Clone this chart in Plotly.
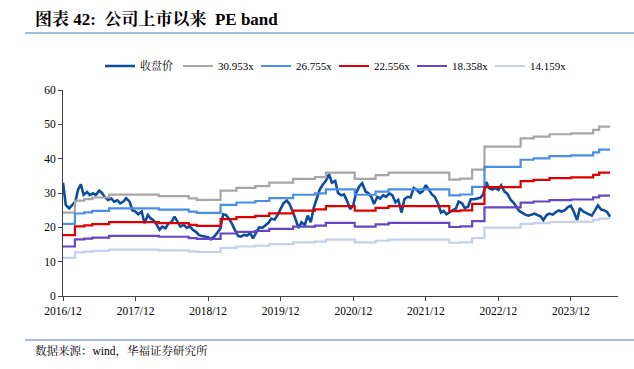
import pandas as pd
import plotly.graph_objects as go

# ---------------- data ----------------
price_start = "2016-12-01"
price = [33.0, 26.5, 25.5, 26.3, 27.5, 31.0, 32.5, 29.5, 30.3, 29.4,
         29.9, 29.4, 30.7, 30.0, 28.7, 28.0, 28.4, 27.5, 27.9, 27.0,
         27.5, 28.5, 27.5, 25.0, 24.6, 23.8, 24.6, 21.2, 23.6, 22.6,
         22.1, 21.0, 19.3, 20.2, 19.7, 21.1, 21.6, 23.1, 21.6, 20.2,
         20.7, 19.9, 20.2, 19.3, 18.7, 17.8, 17.5, 17.3, 17.1, 16.5,
         17.3, 18.3, 19.7, 23.8, 23.6, 22.6, 21.0, 19.2, 17.5, 17.3,
         17.8, 17.6, 18.3, 16.8, 18.7, 20.0, 19.9, 20.5, 21.3, 22.5,
         22.3, 23.5, 25.2, 27.0, 27.8, 26.8, 24.5, 22.0, 19.8, 21.5,
         20.7, 23.4, 21.5, 25.5, 28.5, 31.0, 32.5, 33.5, 35.5, 33.0,
         33.5, 30.0, 29.3, 29.6, 27.5, 25.3, 26.5, 30.0, 32.0, 32.8,
         30.4, 29.9, 28.9, 26.8, 28.9, 28.4, 29.4, 28.9, 29.9, 29.4,
         27.3, 28.0, 24.3, 28.2, 28.9, 28.7, 31.5, 31.0, 30.0, 30.5,
         32.3, 31.2, 29.5, 28.9, 26.8, 24.3, 24.8, 23.8, 24.6, 25.0,
         25.4, 27.5, 27.0, 25.6, 26.0, 28.2, 28.2, 28.4, 28.6, 29.5,
         33.2, 31.4, 31.0, 31.4, 30.9, 32.2, 30.4, 29.8, 28.0, 27.2,
         26.1, 24.8, 24.2, 23.7, 23.4, 23.6, 24.0, 23.6, 23.2, 22.1,
         23.6, 24.0, 23.7, 24.4, 24.9, 24.6, 25.0, 25.8, 26.3, 24.6,
         22.1, 25.6, 24.6, 24.2, 23.8, 23.4, 25.0, 26.4, 25.2, 25.0,
         24.4, 23.1]

eps_dates = ["2016-12-01", "2017-01-30", "2017-03-18", "2017-04-27", "2017-07-21",
             "2018-03-28", "2018-08-26", "2018-10-05", "2019-02-02", "2019-04-23",
             "2019-07-27", "2019-10-05", "2020-02-02", "2020-05-22", "2020-07-16",
             "2020-12-08", "2021-03-23", "2021-05-27", "2022-03-29", "2022-05-23",
             "2022-07-22", "2022-09-22", "2023-03-23", "2023-05-27", "2023-08-15",
             "2023-12-03", "2024-03-22", "2024-04-21"]
eps = [0.785, 0.898, 0.911, 0.927, 0.953, 0.940, 0.918, 0.905, 0.992, 1.018,
       1.034, 1.066, 1.102, 1.118, 1.160, 1.102, 1.137, 1.160, 1.095, 1.105,
       1.189, 1.405, 1.483, 1.499, 1.522, 1.531, 1.564, 1.593]

multiples = [30.953, 26.755, 22.556, 18.358, 14.159]
band_names = ["30.953x", "26.755x", "22.556x", "18.358x", "14.159x"]
price_name = "收盘价"
tick_dates = ["2016-12-01", "2017-12-01", "2018-12-01", "2019-12-01",
              "2020-12-01", "2021-12-01", "2022-12-01", "2023-12-01"]
tick_text = ["2016/12", "2017/12", "2018/12", "2019/12",
             "2020/12", "2021/12", "2022/12", "2023/12"]
title_text = "图表 42:  公司上市以来  PE band"
source_text = "数据来源：wind，华福证券研究所"

# ---------------- figure ----------------
W, H = 634, 369
ML, MR, MT, MB = 63, 16, 90, 73
PW, PH = W - ML - MR, H - MT - MB


def px(x):
    return (x - ML) / PW


def py(y):
    return (H - MB - y) / PH


price_dates = pd.date_range(price_start, periods=len(price), freq="SMS")
end_date = price_dates[-1]

band_colors = ["#a6a6a6", "#4b8ee6", "#e00000", "#6347c4", "#c6d0ea"]
serif = "Liberation Serif, Times New Roman, Noto Serif CJK SC, Noto Sans CJK SC, serif"

fig = go.Figure()
fig.add_trace(go.Scatter(x=price_dates, y=price, mode="lines", name=price_name,
                         line=dict(color="#0d4c9e", width=2.6)))
bx = list(pd.to_datetime(eps_dates)) + [end_date]
for m, n, c in zip(multiples, band_names, band_colors):
    vals = [e * m for e in eps]
    vals = vals + [vals[-1]]
    fig.add_trace(go.Scatter(x=bx, y=vals, mode="lines", name=n, line_shape="hv",
                             line=dict(color=c, width=2.2)))

fig.update_layout(
    width=W, height=H,
    margin=dict(l=ML, r=MR, t=MT, b=MB),
    paper_bgcolor="white", plot_bgcolor="white",
    font=dict(family=serif, size=11.5, color="#000000"),
    showlegend=True,
    legend=dict(orientation="h", x=px(100), y=py(66), xanchor="left", yanchor="middle",
                font=dict(size=11, family=serif), itemwidth=30, tracegroupgap=0,
                entrywidth=33, entrywidthmode="pixels",
                bgcolor="rgba(0,0,0,0)"),
    xaxis=dict(type="date", range=["2016-12-01", "2024-07-25"],
               tickmode="array", tickvals=tick_dates, ticktext=tick_text,
               showgrid=False, zeroline=False, showline=True, linecolor="#404040",
               linewidth=1, ticks="outside", ticklen=4, tickcolor="#404040",
               tickfont=dict(size=11.5, family=serif)),
    yaxis=dict(range=[0, 60], tickmode="linear", tick0=0, dtick=10,
               showgrid=False, zeroline=False, showline=True, linecolor="#404040",
               linewidth=1, ticks="outside", ticklen=4, tickcolor="#404040",
               tickfont=dict(size=11.5, family=serif)),
)

fig.add_annotation(text="<b>" + title_text + "</b>", xref="paper", yref="paper",
                   x=px(33), y=py(19), xanchor="left", yanchor="middle", showarrow=False,
                   font=dict(size=17, family=serif, color="#000000"))
fig.add_annotation(text=source_text, xref="paper", yref="paper",
                   x=px(33), y=py(351), xanchor="left", yanchor="middle", showarrow=False,
                   font=dict(size=11.5, family=serif, color="#000000"))
fig.add_shape(type="line", xref="paper", yref="paper", x0=px(25), x1=px(634),
              y0=py(33), y1=py(33), line=dict(color="#4a7cc4", width=1.2))
fig.add_shape(type="line", xref="paper", yref="paper", x0=px(25), x1=px(634),
              y0=py(340), y1=py(340), line=dict(color="#4a7cc4", width=1.2))

fig.write_html("out.html", config={"displayModeBar": False},
               post_script=["document.body.style.margin='0';"])
